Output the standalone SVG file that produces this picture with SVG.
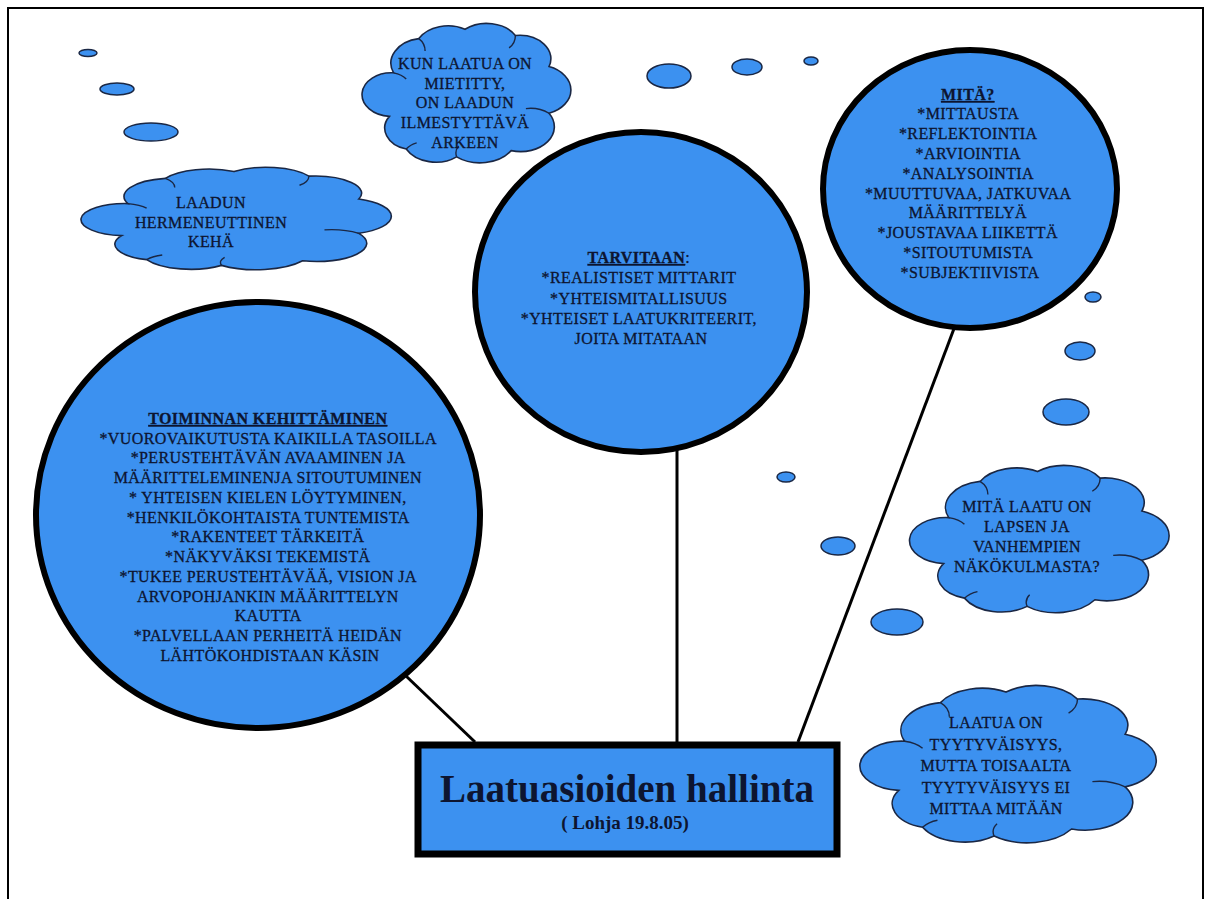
<svg xmlns="http://www.w3.org/2000/svg" width="1211" height="899" viewBox="0 0 1211 899">
<style>
.bub{fill:#3c91f0;stroke:#1a2744;stroke-width:1.5}
.cl{fill:#3c91f0;stroke:#1a2744;stroke-width:1.6;vector-effect:non-scaling-stroke}
.cli{fill:none;stroke:#1a2744;stroke-width:1.4;vector-effect:non-scaling-stroke}
.big{fill:#3c91f0;stroke:#000;stroke-width:6}
.t{font-family:"Liberation Serif","Times New Roman",serif;font-size:16px;fill:#0d1530;stroke:#0d1530;stroke-width:0.3;text-anchor:middle;letter-spacing:0.4px}
.h{font-weight:bold;text-decoration:underline}
.con{stroke:#000;stroke-width:3;fill:none}
.box{fill:#3c91f0;stroke:#000;stroke-width:7}
.title{font-family:"Liberation Serif","Times New Roman",serif;font-weight:bold;fill:#0d1530;text-anchor:middle}
</style>
<defs>
<g id="cloud">
<path class="cl" d="M14,64 A14,14 0 0 1 16,36 A16,16 0 0 1 28,14 A16,16 0 0 1 50,8 A16,16 0 0 1 74,12 A15,15 0 0 1 90,32 A16,16 0 0 1 90,62 A16,16 0 0 1 72,86 A18,18 0 0 1 46,90 A16,16 0 0 1 22,85 A14,14 0 0 1 14,64 Z"/>
<path class="cli" d="M16,36 q4,1 6,4 M28,14 q3,3 3,8 M74,12 q0,5 -3,8 M90,62 q-5,-4 -11,-3 M46,90 q-1,-4 1,-7 M22,85 q2,-3 5,-4"/>
</g>
</defs>
<rect width="1211" height="899" fill="#fff"/>
<rect x="8" y="8" width="1195" height="930" fill="none" stroke="#000" stroke-width="2"/>

<g id="bubbles">
<ellipse class="bub" cx="88" cy="53" rx="9" ry="3.5"/>
<ellipse class="bub" cx="117" cy="89" rx="17" ry="6"/>
<ellipse class="bub" cx="151" cy="132" rx="27" ry="9"/>
<ellipse class="bub" cx="669" cy="76" rx="22" ry="12"/>
<ellipse class="bub" cx="747" cy="67" rx="15" ry="8"/>
<ellipse class="bub" cx="811" cy="61" rx="7" ry="4"/>
<ellipse class="bub" cx="1093" cy="297" rx="8" ry="5"/>
<ellipse class="bub" cx="1080" cy="351" rx="15" ry="9"/>
<ellipse class="bub" cx="1066" cy="412" rx="23" ry="13"/>
<ellipse class="bub" cx="786" cy="477" rx="9" ry="5"/>
<ellipse class="bub" cx="838" cy="546" rx="17" ry="9"/>
<ellipse class="bub" cx="897" cy="622" rx="26" ry="13"/>
</g>

<g id="connectors">
<line class="con" x1="406" y1="676" x2="475" y2="742"/>
<line class="con" x1="677" y1="448" x2="677" y2="742"/>
<line class="con" x1="955" y1="326" x2="798" y2="742"/>
</g>

<g id="cloud-top">
<use href="#cloud" transform="translate(360,16.8) scale(2.1,1.556)"/>
<text class="t"><tspan x="465" y="69">KUN LAATUA ON</tspan><tspan x="465" y="89">MIETITTY,</tspan><tspan x="465" y="108">ON LAADUN</tspan><tspan x="465" y="128">ILMESTYTTÄVÄ</tspan><tspan x="465" y="148">ARKEEN</tspan></text>
</g>

<g id="cloud-left">
<use href="#cloud" transform="translate(78,162.4) scale(3.12,1.144)"/>
<text class="t"><tspan x="211" y="208">LAADUN</tspan><tspan x="211" y="228">HERMENEUTTINEN</tspan><tspan x="211" y="247">KEHÄ</tspan></text>
</g>

<g id="circle-left">
<ellipse class="big" cx="258" cy="515" rx="222" ry="213"/>
<text class="t">
<tspan x="270" y="424" class="h">TOIMINNAN KEHITTÄMINEN</tspan>
<tspan x="270" y="444">*VUOROVAIKUTUSTA KAIKILLA TASOILLA</tspan>
<tspan x="270" y="463">*PERUSTEHTÄVÄN AVAAMINEN JA</tspan>
<tspan x="270" y="483">MÄÄRITTELEMINENJA SITOUTUMINEN</tspan>
<tspan x="270" y="503">* YHTEISEN KIELEN LÖYTYMINEN,</tspan>
<tspan x="270" y="523">*HENKILÖKOHTAISTA TUNTEMISTA</tspan>
<tspan x="270" y="542">*RAKENTEET TÄRKEITÄ</tspan>
<tspan x="270" y="562">*NÄKYVÄKSI TEKEMISTÄ</tspan>
<tspan x="270" y="582">*TUKEE  PERUSTEHTÄVÄÄ, VISION  JA</tspan>
<tspan x="270" y="602">ARVOPOHJANKIN MÄÄRITTELYN</tspan>
<tspan x="270" y="621">KAUTTA</tspan>
<tspan x="270" y="641">*PALVELLAAN PERHEITÄ  HEIDÄN</tspan>
<tspan x="270" y="661">LÄHTÖKOHDISTAAN KÄSIN</tspan>
</text>
</g>

<g id="circle-center">
<ellipse class="big" cx="641" cy="292" rx="166" ry="160"/>
<text class="t">
<tspan x="641" y="263"><tspan class="h">TARVITAAN</tspan>:</tspan>
<tspan x="641" y="283">*REALISTISET  MITTARIT</tspan>
<tspan x="641" y="304">*YHTEISMITALLISUUS</tspan>
<tspan x="641" y="324">*YHTEISET LAATUKRITEERIT,</tspan>
<tspan x="641" y="344">JOITA MITATAAN</tspan>
</text>
</g>

<g id="circle-right">
<ellipse class="big" cx="970" cy="189" rx="147" ry="139"/>
<text class="t">
<tspan x="970" y="100" class="h">MITÄ?</tspan>
<tspan x="970" y="119">*MITTAUSTA</tspan>
<tspan x="970" y="139">*REFLEKTOINTIA</tspan>
<tspan x="970" y="159">*ARVIOINTIA</tspan>
<tspan x="970" y="179">*ANALYSOINTIA</tspan>
<tspan x="970" y="199">*MUUTTUVAA, JATKUVAA</tspan>
<tspan x="970" y="218">MÄÄRITTELYÄ</tspan>
<tspan x="970" y="238">*JOUSTAVAA LIIKETTÄ</tspan>
<tspan x="970" y="258">*SITOUTUMISTA</tspan>
<tspan x="970" y="278">*SUBJEKTIIVISTA</tspan>
</text>
</g>

<g id="cloud-right">
<use href="#cloud" transform="translate(907,458.4) scale(2.61,1.644)"/>
<text class="t"><tspan x="1027" y="512">MITÄ LAATU ON</tspan><tspan x="1027" y="532">LAPSEN  JA</tspan><tspan x="1027" y="552">VANHEMPIEN</tspan><tspan x="1027" y="572">NÄKÖKULMASTA?</tspan></text>
</g>

<g id="cloud-bottom">
<use href="#cloud" transform="translate(857,678) scale(2.98,1.756)"/>
<text class="t"><tspan x="996" y="728">LAATUA ON</tspan><tspan x="996" y="750">TYYTYVÄISYYS,</tspan><tspan x="996" y="771">MUTTA TOISAALTA</tspan><tspan x="996" y="793">TYYTYVÄISYYS EI</tspan><tspan x="996" y="814">MITTAA MITÄÄN</tspan></text>
</g>

<g id="main">
<rect class="box" x="418" y="745" width="419" height="109"/>
<text class="title" x="627" y="802" font-size="39">Laatuasioiden hallinta</text>
<text class="title" x="625" y="829" font-size="19">( Lohja 19.8.05)</text>
</g>
</svg>
